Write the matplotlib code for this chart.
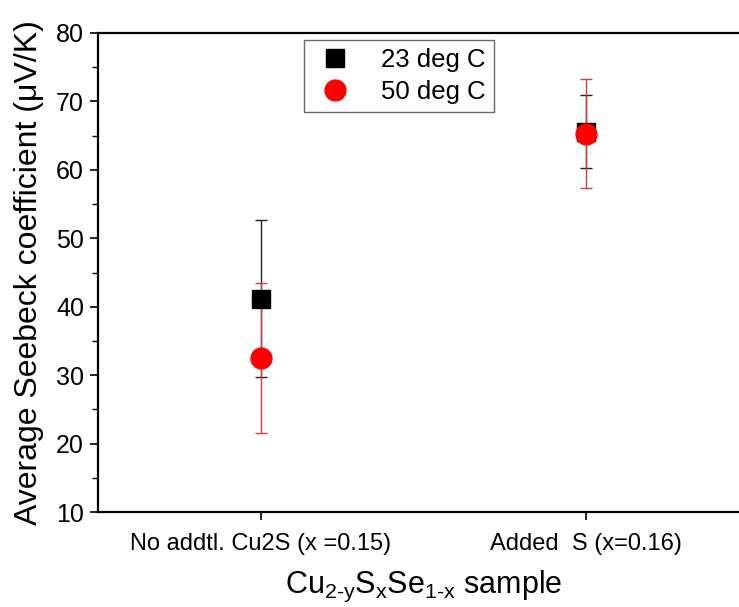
import matplotlib
matplotlib.use("Agg")
import matplotlib.pyplot as plt
from matplotlib.lines import Line2D

plt.rcParams['font.family'] = ['Liberation Sans', 'DejaVu Sans']
plt.rcParams['mathtext.fontset'] = 'custom'
plt.rcParams['mathtext.rm'] = 'Liberation Sans'
plt.rcParams['mathtext.it'] = 'Liberation Sans'

categories = ["No addtl. Cu2S (x =0.15)", "Added  S (x=0.16)"]
s23 = [41.2, 65.6]
e23 = [11.5, 5.4]
s50 = [32.5, 65.3]
e50 = [10.9, 8.0]
yticks = [10, 20, 30, 40, 50, 60, 70, 80]

W, H = 739, 607
fig = plt.figure(figsize=(W / 100, H / 100), dpi=100)
ax = fig.add_axes([98 / W, 95 / H, 651 / W, 479 / H])

xpos = [1, 2]
ax.errorbar(xpos, s23, yerr=e23, fmt='none', ecolor='#222222', elinewidth=1.0,
            capsize=4.5, capthick=1.0, zorder=2)
ax.errorbar(xpos, s50, yerr=e50, fmt='none', ecolor='#d04040', elinewidth=1.0,
            capsize=4.5, capthick=1.0, zorder=3)
ax.plot(xpos, s23, 's', color='black', markersize=13, linestyle='none', zorder=4)
ax.plot(xpos, s50, 'o', color='red', markersize=15, linestyle='none', zorder=5)

ax.set_xlim(0.5, 2.5)
ax.set_ylim(10, 80)
ax.set_yticks(yticks)
ax.set_yticks([15, 25, 35, 45, 55, 65, 75], minor=True)
ax.set_xticks(xpos)
ax.set_xticklabels(categories, fontsize=17)
ax.tick_params(axis='y', labelsize=18, length=6, width=1.2, direction='out', pad=4)
ax.tick_params(axis='y', which='minor', length=4, width=1.0, direction='out')
ax.tick_params(axis='x', length=6, width=1.2, direction='out', pad=9)

ax.spines['right'].set_visible(False)
for s in ['left', 'top', 'bottom']:
    ax.spines[s].set_linewidth(1.6)

ax.set_ylabel('Average Seebeck coefficient (μV/K)', fontsize=23, labelpad=9)
ax.set_xlabel(r'Cu$_{\mathregular{2\text{-}y}}$S$_{\mathregular{x}}$Se$_{\mathregular{1\text{-}x}}$ sample',
              fontsize=22, labelpad=10)

handles = [Line2D([], [], marker='s', color='black', linestyle='none', markersize=13),
           Line2D([], [], marker='o', color='red', linestyle='none', markersize=15)]
leg = ax.legend(handles, ['23 deg C', '50 deg C'], loc='upper left',
                bbox_to_anchor=(0.297, 1.012), fontsize=18.5, frameon=True,
                fancybox=False, edgecolor='#444444', handletextpad=0.9,
                borderpad=0.3, labelspacing=0.32, handlelength=1.8)
leg.get_frame().set_linewidth(1.0)

fig.savefig('out.png', dpi=100)
